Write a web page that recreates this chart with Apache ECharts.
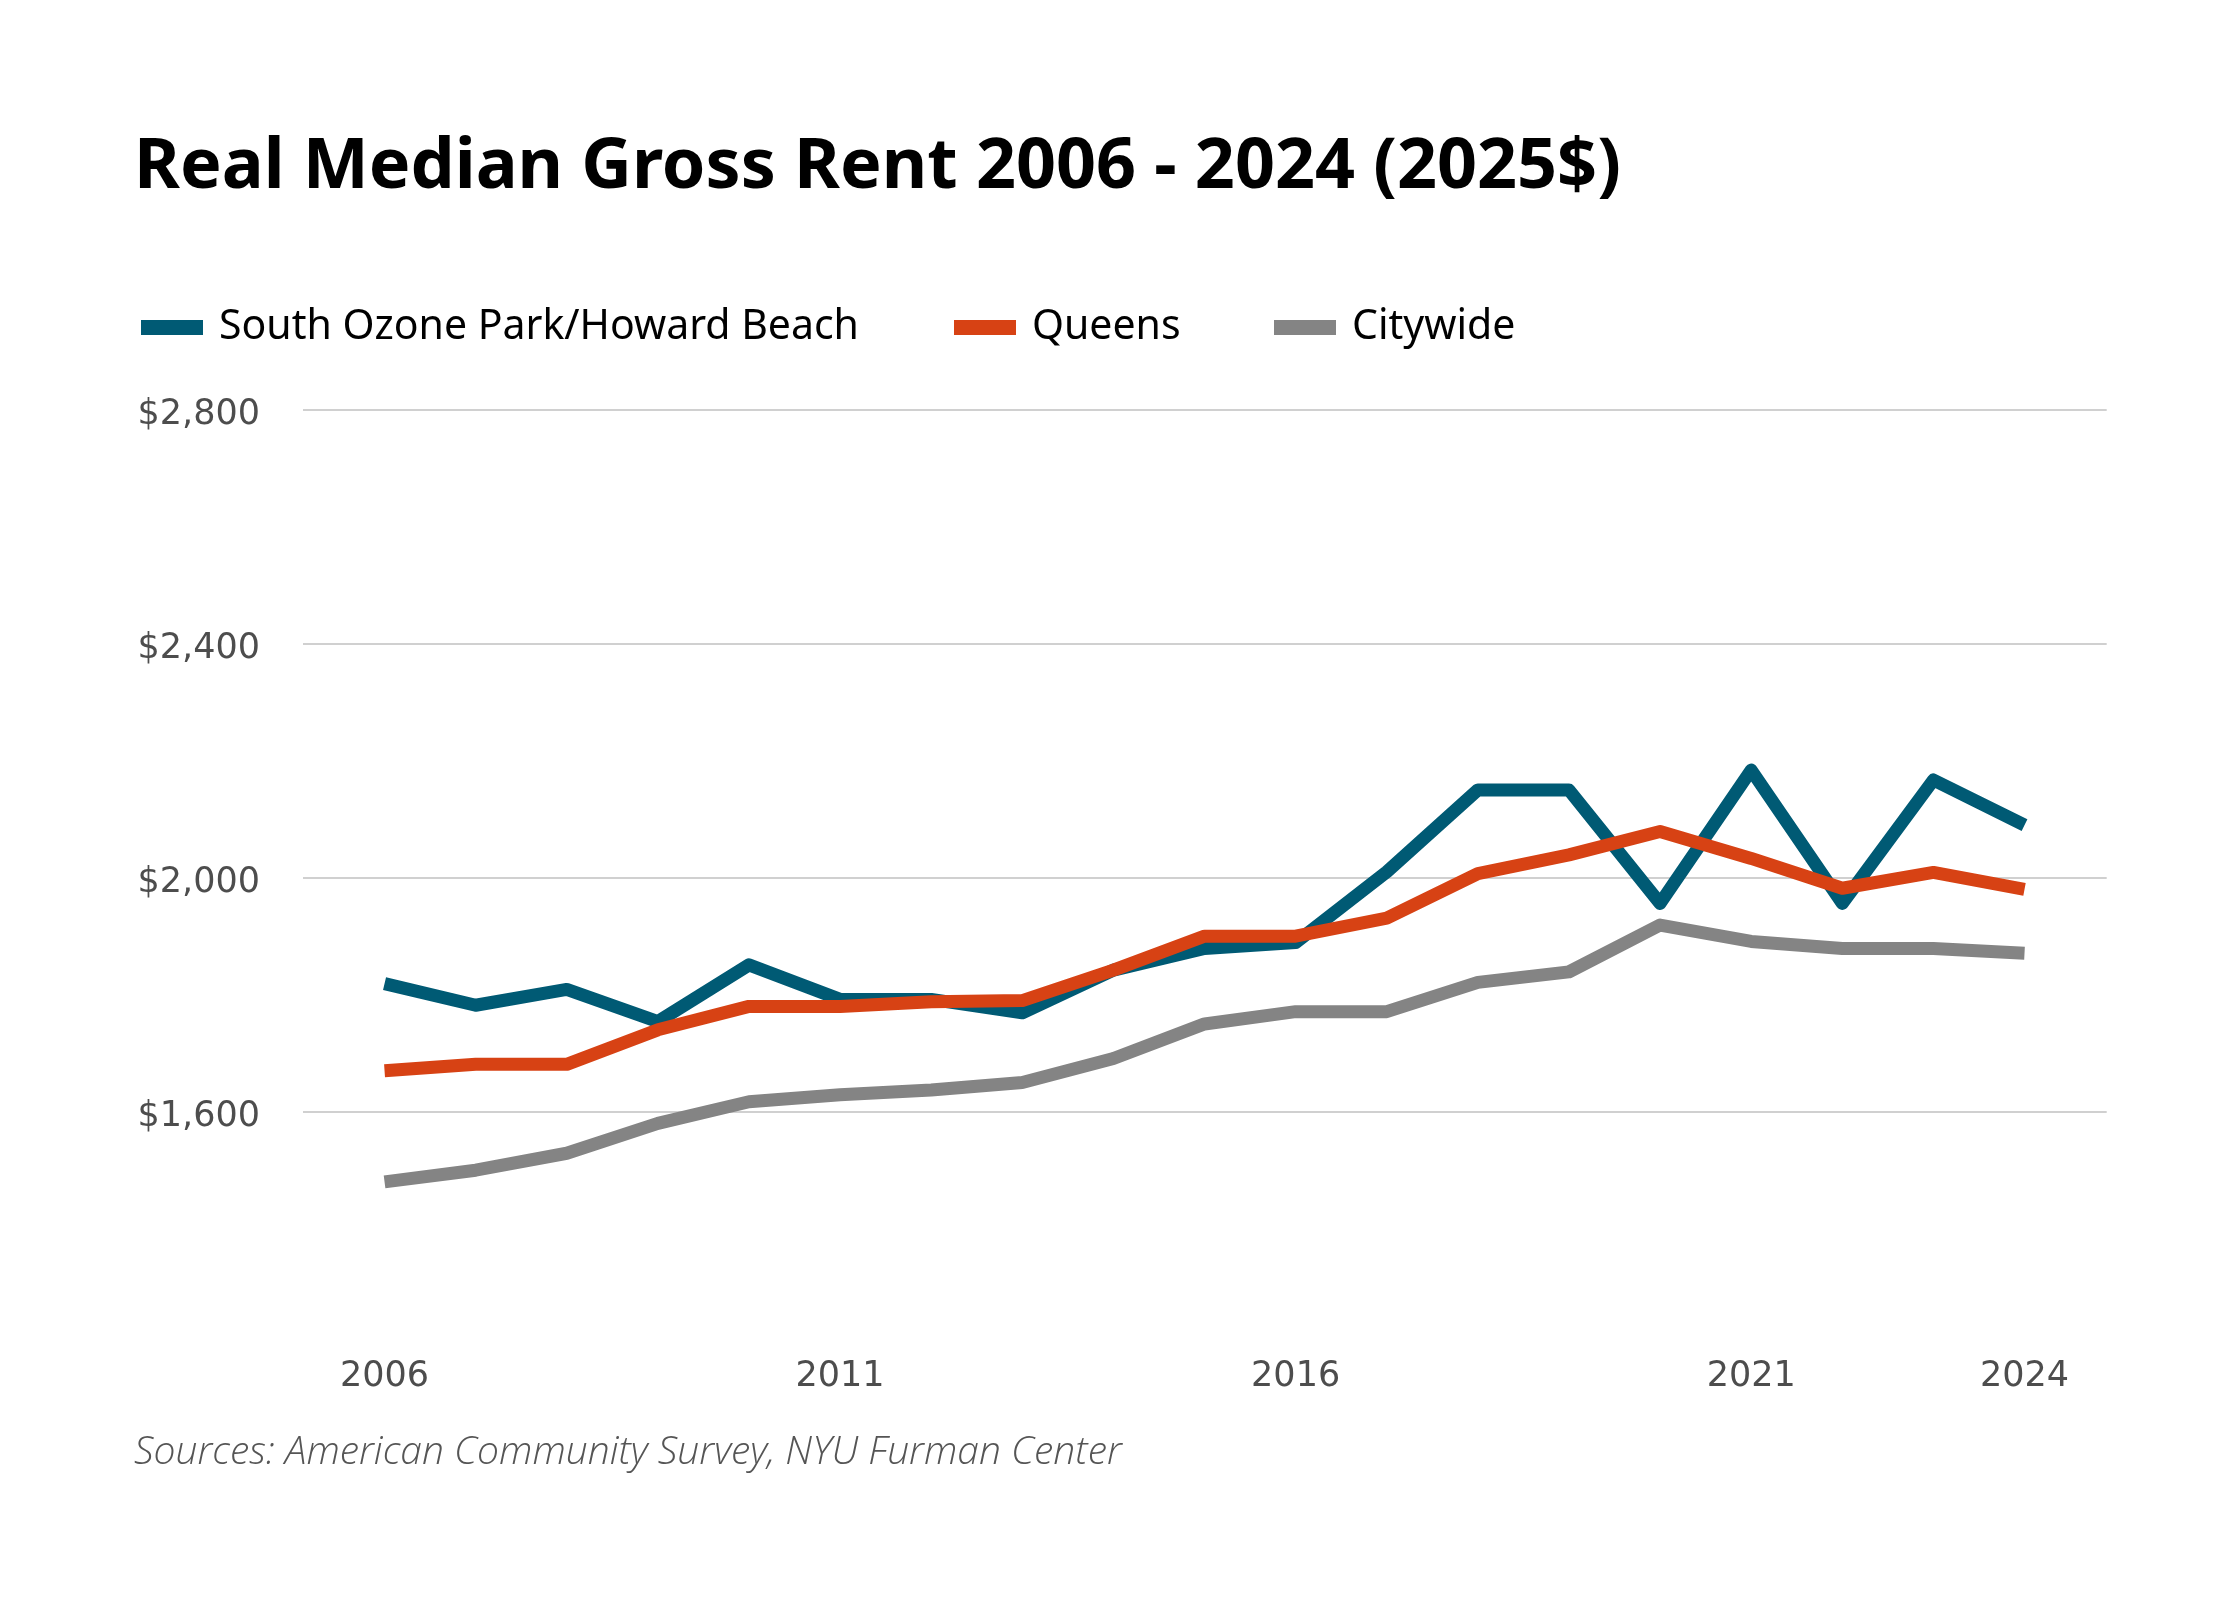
<!DOCTYPE html>
<html>
<head>
<meta charset="utf-8">
<title>Real Median Gross Rent</title>
<script src="https://cdn.jsdelivr.net/npm/echarts@6/dist/echarts.min.js"></script>
<style>
  html, body { margin: 0; padding: 0; background: #fff; }
  #chart { width: 2240px; height: 1600px; }
</style>
</head>
<body>
<div id="chart"></div>
<script>
// 数据
var years = [2006, 2007, 2008, 2009, 2010, 2011, 2012, 2013, 2014, 2015, 2016, 2017, 2018, 2019, 2020, 2021, 2022, 2023, 2024];
var southOzone = [1819, 1782, 1809, 1754, 1851, 1792, 1792, 1769, 1842, 1879, 1889, 2010, 2150, 2150, 1956, 2184, 1956, 2167, 2090];
var queens = [1670, 1681, 1681, 1740, 1780, 1780, 1788, 1790, 1842, 1900, 1900, 1931, 2007, 2039, 2079, 2033, 1982, 2009, 1980];
var citywide = [1480, 1500, 1529, 1580, 1617, 1629, 1637, 1650, 1691, 1750, 1771, 1771, 1821, 1839, 1919, 1891, 1879, 1879, 1871];
var yearLabels = [2006, 2011, 2016, 2021, 2024];
var seriesNames = ["South Ozone Park/Howard Beach", "Queens", "Citywide"];
var colors = ["#005a74", "#d74214", "#848484"];

function pairs(values) {
    return years.map(function (y, i) {
        return [y, values[i]];
    });
}

var myChart = echarts.init(document.getElementById("chart"));

// 每个图例单独定位
var legendLeft = [141, 954, 1274];
var legends = seriesNames.map(function (name, i) {
    return {
        data: [name],
        left: legendLeft[i],
        top: 307,
        padding: 0,
        icon: "rect",
        itemWidth: 62,
        itemHeight: 15,
        itemGap: 0,
        selectedMode: false,
        textStyle: {
            fontFamily: "Noto Sans",
            fontSize: 41,
            color: "#000",
            padding: [0, 0, 0, 11]
        }
    };
});

var lineSeries = [southOzone, queens, citywide].map(function (values, i) {
    return {
        name: seriesNames[i],
        type: "line",
        data: pairs(values),
        showSymbol: false,
        symbol: "none",
        color: colors[i],
        lineStyle: {
            width: 13,
            color: colors[i],
            join: "round",
            cap: "butt"
        },
        z: 2 + i,
        animation: false
    };
});

var option = {
    backgroundColor: "#fff",
    animation: false,
    title: {
        text: "Real Median Gross Rent 2006 - 2024 (2025$)",
        left: 134,
        top: 133,
        padding: 0,
        textStyle: {
            fontFamily: "Noto Sans",
            fontWeight: "bold",
            fontSize: 70,
            color: "#000"
        }
    },
    legend: legends,
    grid: {
        left: 303,
        right: 133.3,
        top: 409.7,
        bottom: 254.3,
        containLabel: false
    },
    xAxis: {
        type: "value",
        min: 2005.105,
        max: 2024.902,
        axisLine: { show: false },
        axisTick: { show: false },
        splitLine: { show: false },
        axisLabel: {
            customValues: yearLabels,
            margin: 14,
            fontFamily: "DejaVu Sans",
            fontSize: 35,
            color: "#4d4d4d",
            formatter: function (v) { return String(v); }
        }
    },
    yAxis: {
        type: "value",
        min: 1200,
        max: 2800,
        interval: 400,
        axisLine: { show: false },
        axisTick: { show: false },
        axisLabel: {
            margin: 43,
            formatter: function (v) {
                if (v === 1200) return "";
                return "{v|$" + v.toLocaleString("en-US") + "}";
            },
            rich: {
                v: {
                    fontFamily: "DejaVu Sans",
                    fontSize: 35,
                    color: "#4d4d4d",
                    padding: [10, 0, 0, 0]
                }
            }
        },
        splitLine: {
            show: true,
            lineStyle: {
                // 最底部 1200 不画线
                color: ["rgba(0,0,0,0)", "#d0d0d0", "#d0d0d0", "#d0d0d0", "#d0d0d0"],
                width: 2
            }
        }
    },
    graphic: [
        {
            type: "text",
            left: 134,
            top: 1433,
            style: {
                text: "Sources: American Community Survey, NYU Furman Center",
                fontFamily: "Open Sans",
                fontStyle: "italic",
                fontWeight: 300,
                fontSize: 39,
                fill: "#555"
            }
        }
    ],
    series: lineSeries
};

myChart.setOption(option);
</script>
</body>
</html>
